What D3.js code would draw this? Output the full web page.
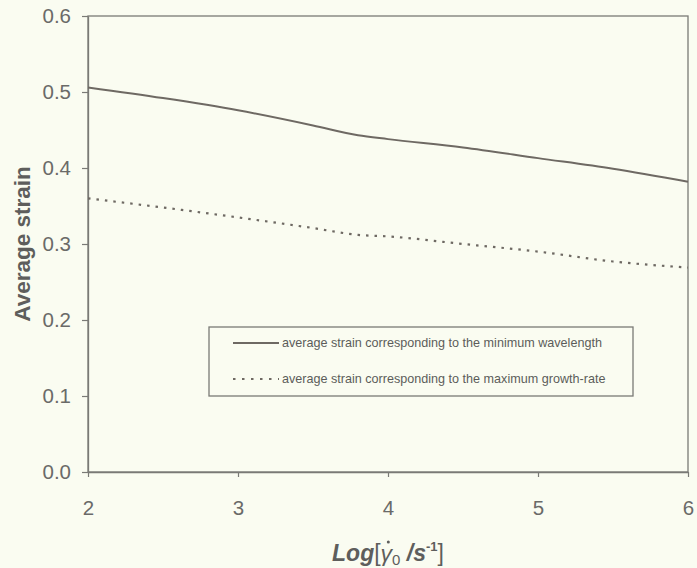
<!DOCTYPE html>
<html>
<head>
<meta charset="utf-8">
<script src="https://cdn.jsdelivr.net/npm/d3@7.9.0/dist/d3.min.js"></script>
<style>
  html, body { margin: 0; padding: 0; background: #fafcf1; }
  svg { display: block; font-family: "Liberation Sans", Arial, sans-serif; }
</style>
</head>
<body>
<div id="chart"></div>
<script>
// log strain-rate values along x
const logRate = [2, 2.5, 3, 3.5, 3.8, 4, 4.5, 5, 5.5, 6];
// average strain, minimum wavelength (solid)
const strainMinWave = [0.506, 0.492, 0.476, 0.456, 0.443, 0.438, 0.427, 0.413, 0.399, 0.382];
// average strain, maximum growth-rate (dotted)
const strainMaxGrowth = [0.360, 0.348, 0.335, 0.321, 0.312, 0.310, 0.300, 0.290, 0.277, 0.269];

const xTicks = [2, 3, 4, 5, 6];
const yTicks = [0, 0.1, 0.2, 0.3, 0.4, 0.5, 0.6];
const legendLabels = [
  "average strain corresponding to the minimum wavelength",
  "average strain corresponding to the maximum growth-rate"
];

const width = 697, height = 568;
const margin = { left: 88, right: 9, top: 16, bottom: 96 };
const axisColor = "#7a7a76";
const lineColor = "#6e6963";
const textColor = "#6a6a68";

const svg = d3.select("#chart").append("svg")
  .attr("width", width)
  .attr("height", height);

const x = d3.scaleLinear().domain([2, 6]).range([margin.left, width - margin.right]);
const y = d3.scaleLinear().domain([0, 0.6]).range([height - margin.bottom, margin.top]);

// frame
svg.append("rect")
  .attr("x", x(2)).attr("y", y(0.6))
  .attr("width", x(6) - x(2)).attr("height", y(0) - y(0.6))
  .attr("fill", "none")
  .attr("stroke", axisColor)
  .attr("stroke-width", 1.3);

const xAxis = svg.append("g")
  .attr("transform", `translate(0, ${y(0)})`)
  .call(d3.axisBottom(x).tickValues(xTicks).tickFormat(d3.format("d")).tickSizeInner(5).tickSizeOuter(0).tickPadding(23));

const yAxis = svg.append("g")
  .attr("transform", `translate(${x(2)}, 0)`)
  .call(d3.axisLeft(y).tickValues(yTicks).tickFormat(d3.format(".1f")).tickSizeInner(6).tickSizeOuter(0).tickPadding(11));

[xAxis, yAxis].forEach(g => {
  g.select(".domain").attr("stroke", axisColor).attr("stroke-width", 1.3);
  g.selectAll(".tick line").attr("stroke", axisColor).attr("stroke-width", 1.2);
  g.selectAll(".tick text")
    .attr("fill", textColor)
    .style("font-size", "20.5px");
});

// series
const line = d3.line()
  .x(d => x(d[0]))
  .y(d => y(d[1]))
  .curve(d3.curveMonotoneX);

svg.append("path")
  .datum(d3.zip(logRate, strainMinWave))
  .attr("d", line)
  .attr("fill", "none")
  .attr("stroke", lineColor)
  .attr("stroke-width", 2);

svg.append("path")
  .datum(d3.zip(logRate, strainMaxGrowth))
  .attr("d", line)
  .attr("fill", "none")
  .attr("stroke", lineColor)
  .attr("stroke-width", 2.2)
  .attr("stroke-dasharray", "2.5,6");

// legend
const legend = svg.append("g");
legend.append("rect")
  .attr("x", 209).attr("y", 327)
  .attr("width", 424).attr("height", 69)
  .attr("fill", "none")
  .attr("stroke", axisColor)
  .attr("stroke-width", 1.3);

legendLabels.forEach((label, i) => {
  const ly = 343 + i * 36;
  legend.append("line")
    .attr("x1", 233).attr("x2", 279)
    .attr("y1", ly).attr("y2", ly)
    .attr("stroke", lineColor)
    .attr("stroke-width", 2)
    .attr("stroke-dasharray", i === 0 ? null : "2.5,6.5");
  legend.append("text")
    .attr("x", 282).attr("y", ly + 4)
    .attr("fill", "#5c5c5a")
    .style("font-size", "12.6px")
    .text(label);
});

// axis titles
svg.append("text")
  .attr("transform", `translate(30, ${(y(0) + y(0.6)) / 2}) rotate(-90)`)
  .attr("text-anchor", "middle")
  .attr("fill", "#5e5e5c")
  .style("font-size", "22.5px")
  .style("font-weight", "bold")
  .text("Average strain");

const xt = svg.append("text")
  .attr("x", 388)
  .attr("y", 561)
  .attr("text-anchor", "middle")
  .attr("fill", "#5e5e5c")
  .style("font-size", "23px")
  .style("font-weight", "bold");
xt.append("tspan").style("font-style", "italic").text("Log");
xt.append("tspan").style("font-weight", "normal").text("[");
xt.append("tspan").style("font-style", "italic").style("font-weight", "normal").text("γ");
xt.append("tspan").attr("dy", 4).style("font-size", "15px").style("font-weight", "normal").text("0");
xt.append("tspan").attr("dy", -4).style("font-style", "italic").text(" /s");
xt.append("tspan").attr("dy", -10).style("font-size", "13px").text("-1");
xt.append("tspan").attr("dy", 10).style("font-weight", "normal").text("]");

// dot above gamma (char index 4 in "Log[γ...")
const node = xt.node();
const gStart = node.getStartPositionOfChar(4);
const gEnd = node.getEndPositionOfChar(4);
svg.append("circle")
  .attr("cx", (gStart.x + gEnd.x) / 2 + 2)
  .attr("cy", 561 - 19)
  .attr("r", 1.5)
  .attr("fill", "#5e5e5c");
</script>
</body>
</html>
